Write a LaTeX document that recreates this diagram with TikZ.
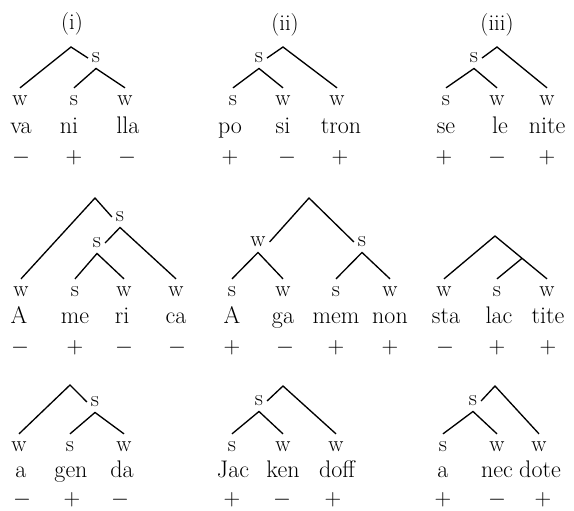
\documentclass[tikz,border=0pt]{standalone}
\usetikzlibrary{calc}
\begin{document}
\begin{tikzpicture}[x=0.75pt,y=-0.75pt]
\tikzset{
  lab/.style={font=\fontsize{17}{20}\selectfont, text height=7.3pt, text depth=0pt, inner xsep=2.8pt},
  leaf/.style={lab, inner ysep=6pt},
  mid/.style={lab, inner ysep=4pt},
  syl/.style={font=\fontsize{18}{20}\selectfont, anchor=base, inner sep=0pt},
  sign/.style={font=\fontsize{18}{20}\selectfont, inner sep=0pt},
  ttl/.style={font=\fontsize{17}{20}\selectfont, inner sep=0pt},
  br/.style={line width=1pt}
}
\useasboundingbox (0,0) rectangle (574,510);

% column headings
\node[ttl] (ti) at (72,24) {(i)};
\node[ttl] (tii) at (285,25) {(ii)};
\node[ttl] (tiii) at (497,25) {(iii)};

% ---- va-ni-lla
\coordinate (a0) at (71,47);
\node[mid] (as) at (96,58) {s};
\node[leaf] (a1) at (20,101) {w};
\node[leaf] (a2) at (74,101) {s};
\node[leaf] (a3) at (125,101) {w};
\draw[br] (a1.north) -- (a0) -- (as.west);
\draw[br] (a2.north) -- (as.south) -- (a3.north);
\node[syl] (a1t) at (21,133) {va};
\node[syl] (a2t) at (69,133) {ni};
\node[syl] (a3t) at (128,133) {lla};
\node[sign] (a1p) at (21,158) {$-$};
\node[sign] (a2p) at (74,158) {$+$};
\node[sign] (a3p) at (127,158) {$-$};

% ---- po-si-tron
\coordinate (b0) at (283,47);
\node[mid] (bs) at (259,58) {s};
\node[leaf] (b1) at (233,101) {s};
\node[leaf] (b2) at (283,101) {w};
\node[leaf] (b3) at (337,101) {w};
\draw[br] (bs.east) -- (b0) -- (b3.north);
\draw[br] (b1.north) -- (bs.south) -- (b2.north);
\node[syl] (b1t) at (230,133) {po};
\node[syl] (b2t) at (283,133) {si};
\node[syl] (b3t) at (341,133) {tron};
\node[sign] (b1p) at (230,158) {$+$};
\node[sign] (b2p) at (287,158) {$-$};
\node[sign] (b3p) at (340,158) {$+$};

% ---- se-le-nite
\coordinate (c0) at (497,47);
\node[mid] (cs) at (474,58) {s};
\node[leaf] (c1) at (446,101) {s};
\node[leaf] (c2) at (497,101) {w};
\node[leaf] (c3) at (547,101) {w};
\draw[br] (cs.east) -- (c0) -- (c3.north);
\draw[br] (c1.north) -- (cs.south) -- (c2.north);
\node[syl] (c1t) at (446,133) {se};
\node[syl] (c2t) at (500,133) {le};
\node[syl] (c3t) at (547,133) {nite};
\node[sign] (c1p) at (444,158) {$+$};
\node[sign] (c2p) at (497,158) {$-$};
\node[sign] (c3p) at (547,158) {$+$};

% ---- A-me-ri-ca
\coordinate (d0) at (95,198);
\node[mid] (ds) at (120,217) {s};
\node[mid] (dt) at (97,243) {s};
\node[leaf] (d1) at (21,292) {w};
\node[leaf] (d2) at (75,292) {s};
\node[leaf] (d3) at (124,292) {w};
\node[leaf] (d4) at (176,292) {w};
\draw[br] (d1.north) -- (d0) -- (ds.west);
\draw[br] (dt.east) -- (ds.south) -- (d4.north);
\draw[br] (d2.north) -- (dt.south) -- (d3.north);
\node[syl] (d1t) at (19,323) {A};
\node[syl] (d2t) at (75,323) {me};
\node[syl] (d3t) at (122,323) {ri};
\node[syl] (d4t) at (176,323) {ca};
\node[sign] (d1p) at (20,348) {$-$};
\node[sign] (d2p) at (75,348) {$+$};
\node[sign] (d3p) at (124,348) {$-$};
\node[sign] (d4p) at (177,348) {$-$};

% ---- A-ga-mem-non
\coordinate (e0) at (309,198);
\node[mid] (ew) at (258,242) {w};
\node[mid] (es) at (362,242) {s};
\node[leaf] (e1) at (232,292) {s};
\node[leaf] (e2) at (283,292) {w};
\node[leaf] (e3) at (336,292) {s};
\node[leaf] (e4) at (390,292) {w};
\draw[br] (ew.east) -- (e0) -- (es.west);
\draw[br] (e1.north) -- (ew.south) -- (e2.north);
\draw[br] (e3.north) -- (es.south) -- (e4.north);
\node[syl] (e1t) at (232,323) {A};
\node[syl] (e2t) at (283,323) {ga};
\node[syl] (e3t) at (336,323) {mem};
\node[syl] (e4t) at (390,323) {non};
\node[sign] (e1p) at (232,348) {$+$};
\node[sign] (e2p) at (285,348) {$-$};
\node[sign] (e3p) at (336,348) {$+$};
\node[sign] (e4p) at (390,348) {$+$};

% ---- sta-lac-tite
\coordinate (f0) at (495,236);
\node[leaf] (f1) at (444,292) {w};
\node[leaf] (f2) at (497,292) {s};
\node[leaf] (f3) at (547,292) {w};
\draw[br] (f1.north) -- (f0) -- (f3.north);
\coordinate (fm) at ($(f0)!0.52!(f3.north)$);
\draw[br] (fm) -- (f2.north);
\node[syl] (f1t) at (446,323) {sta};
\node[syl] (f2t) at (499,323) {lac};
\node[syl] (f3t) at (548,323) {tite};
\node[sign] (f1p) at (445,348) {$-$};
\node[sign] (f2p) at (497,348) {$+$};
\node[sign] (f3p) at (548,348) {$+$};

% ---- a-gen-da
\coordinate (g0) at (70,385);
\node[mid] (gs) at (95,402) {s};
\node[leaf] (g1) at (19,447) {w};
\node[leaf] (g2) at (70,447) {s};
\node[leaf] (g3) at (124,447) {w};
\draw[br] (g1.north) -- (g0) -- (gs.west);
\draw[br] (g2.north) -- (gs.south) -- (g3.north);
\node[syl] (g1t) at (21,477) {a};
\node[syl] (g2t) at (71,477) {gen};
\node[syl] (g3t) at (122,477) {da};
\node[sign] (g1p) at (22,500) {$-$};
\node[sign] (g2p) at (72,500) {$+$};
\node[sign] (g3p) at (120,500) {$-$};

% ---- Jac-ken-doff
\coordinate (h0) at (283,386);
\node[mid] (hs) at (259,401) {s};
\node[leaf] (h1) at (232,447) {s};
\node[leaf] (h2) at (283,447) {w};
\node[leaf] (h3) at (336,447) {w};
\draw[br] (hs.east) -- (h0) -- (h3.north);
\draw[br] (h1.north) -- (hs.south) -- (h2.north);
\node[syl] (h1t) at (233,477) {Jac};
\node[syl] (h2t) at (283,477) {ken};
\node[syl] (h3t) at (337,477) {doff};
\node[sign] (h1p) at (232,500) {$+$};
\node[sign] (h2p) at (282,500) {$-$};
\node[sign] (h3p) at (333,500) {$+$};

% ---- a-nec-dote
\coordinate (i0) at (495,386);
\node[mid] (is) at (473,401) {s};
\node[leaf] (i1) at (443,447) {s};
\node[leaf] (i2) at (497,447) {w};
\node[leaf] (i3) at (539,447) {w};
\draw[br] (is.east) -- (i0) -- (i3.north);
\draw[br] (i1.north) -- (is.south) -- (i2.north);
\node[syl] (i1t) at (443,477) {a};
\node[syl] (i2t) at (497,477) {nec};
\node[syl] (i3t) at (540,477) {dote};
\node[sign] (i1p) at (443,500) {$+$};
\node[sign] (i2p) at (497,500) {$-$};
\node[sign] (i3p) at (543,500) {$+$};
\end{tikzpicture}
\end{document}
